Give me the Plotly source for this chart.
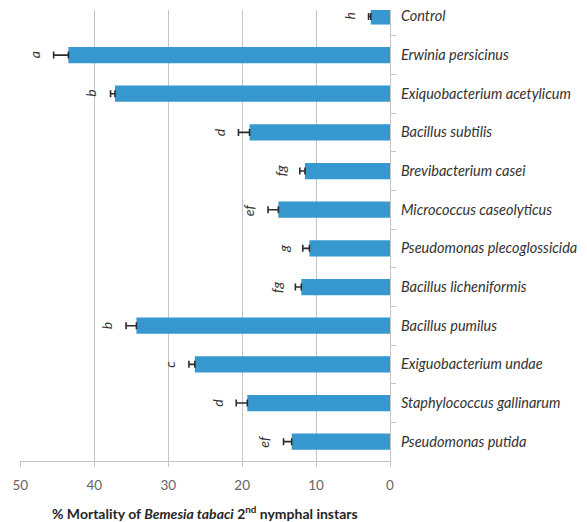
import plotly.graph_objects as go

# Treatments, top to bottom
treatments = [
    "Control",
    "Erwinia persicinus",
    "Exiquobacterium acetylicum",
    "Bacillus subtilis",
    "Brevibacterium casei",
    "Micrococcus caseolyticus",
    "Pseudomonas plecoglossicida",
    "Bacillus licheniformis",
    "Bacillus pumilus",
    "Exiguobacterium undae",
    "Staphylococcus gallinarum",
    "Pseudomonas putida",
]
# Mean % mortality of 2nd nymphal instars and standard errors
mortality = [2.6, 43.5, 37.2, 19.0, 11.5, 15.1, 10.9, 12.0, 34.3, 26.4, 19.3, 13.3]
std_err = [0.3, 2.0, 0.6, 1.5, 0.7, 1.4, 0.9, 0.8, 1.4, 0.8, 1.5, 1.1]
# Mean separation letters
letters = ["h", "a", "b", "d", "fg", "ef", "g", "fg", "b", "c", "d", "ef"]

x_ticks = [50, 40, 30, 20, 10, 0]
x_title = "% Mortality of <i>Bemesia tabaci</i> 2<sup>nd</sup> nymphal instars"

BAR = "#3797cf"
GRID = "#c4c4c4"

fig = go.Figure()
fig.add_trace(go.Bar(
    y=treatments,
    x=mortality,
    orientation="h",
    marker=dict(color=BAR, line=dict(width=0)),
    width=0.42,
    error_x=dict(
        type="data",
        symmetric=False,
        array=std_err,
        arrayminus=[0] * len(std_err),
        color="#2b2b2b",
        thickness=1.6,
        width=3.5,
    ),
    hoverinfo="skip",
))

for name, val, err, let in zip(treatments, mortality, std_err, letters):
    fig.add_annotation(
        x=val + err,
        y=name,
        text=let,
        showarrow=False,
        textangle=-90,
        xanchor="right",
        yanchor="middle",
        xshift=-9,
        font=dict(family="Lato", size=14, color="#333333", style="italic"),
    )

# Axis title, placed below the tick labels
fig.add_annotation(
    x=0.5, y=0, xref="paper", yref="paper",
    text=x_title,
    showarrow=False,
    xanchor="center", yanchor="middle",
    yshift=-51,
    font=dict(family="Lato", size=14, color="#262626", weight="bold"),
)

fig.update_layout(
    width=587,
    height=522,
    margin=dict(l=20, r=197, t=10, b=61),
    paper_bgcolor="white",
    plot_bgcolor="white",
    showlegend=False,
    bargap=0.58,
    xaxis=dict(
        range=[50.05, 0],
        tickvals=x_ticks,
        ticktext=[str(v) for v in x_ticks],
        automargin=False,
        showgrid=True,
        gridcolor=GRID,
        gridwidth=1,
        zeroline=False,
        showline=True,
        linecolor=GRID,
        linewidth=1,
        ticks="outside",
        ticklen=5,
        tickcolor=GRID,
        ticklabelstandoff=7,
        tickfont=dict(family="Lato", size=13.5, color="#666666"),
    ),
    yaxis=dict(
        type="category",
        categoryorder="array",
        categoryarray=treatments,
        range=[11.5, -0.166],
        side="right",
        automargin=False,
        showgrid=False,
        zeroline=False,
        showline=True,
        linecolor=GRID,
        linewidth=1,
        ticks="outside",
        tickson="boundaries",
        ticklen=5,
        tickcolor=GRID,
        ticklabelstandoff=7,
        tickfont=dict(family="Lato", size=14.5, color="#333333", style="italic"),
    ),
)

fig.write_html("out.html")
